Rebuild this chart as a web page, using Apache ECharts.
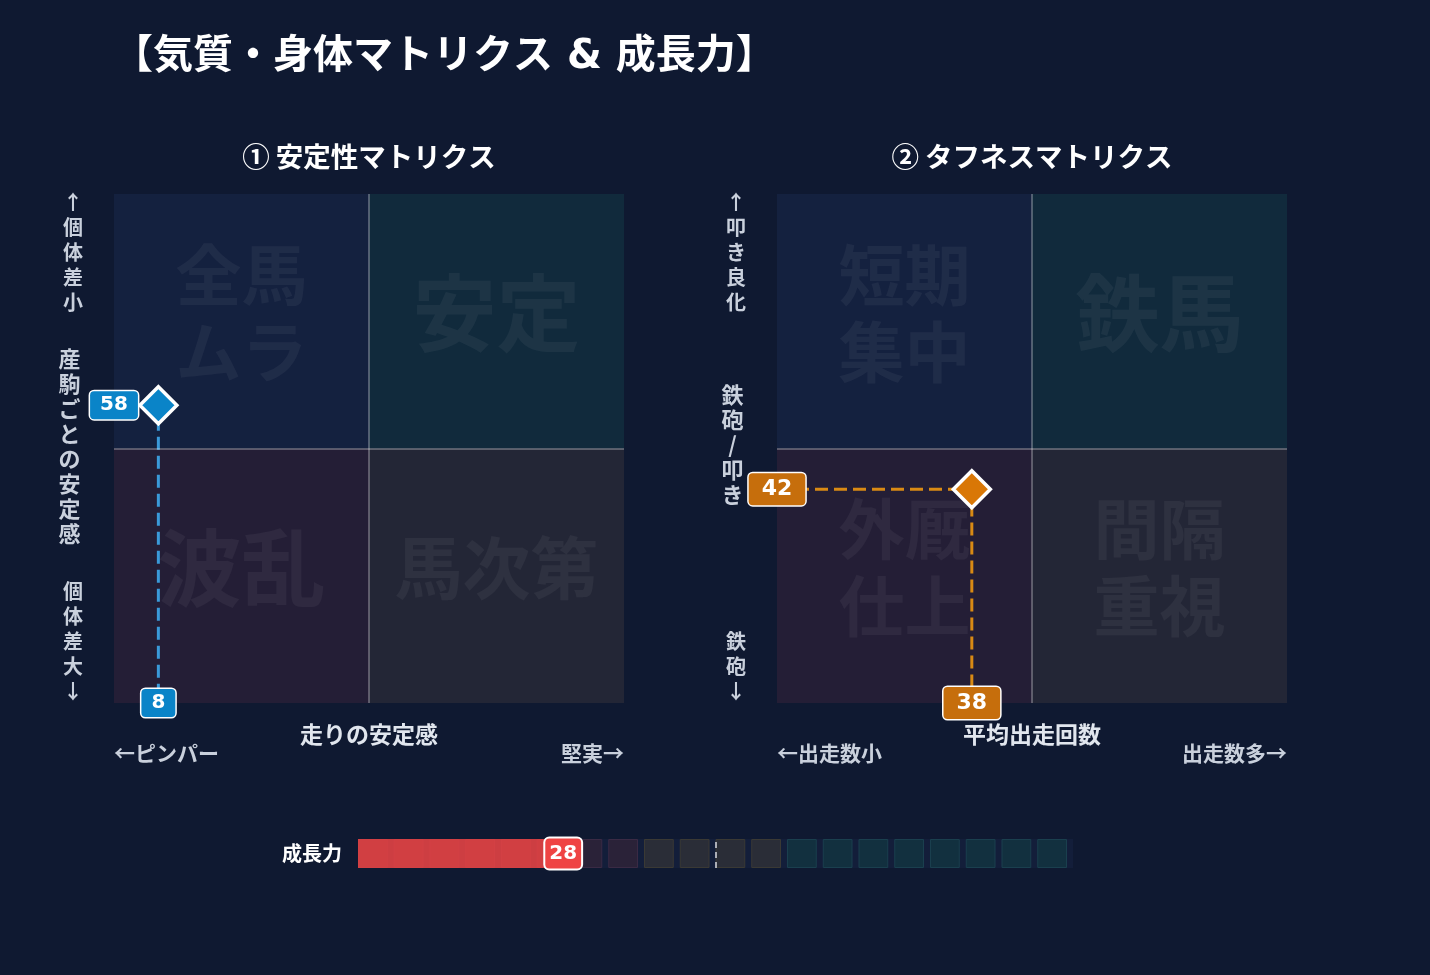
<!DOCTYPE html>
<html><head><meta charset="utf-8">
<script src="https://cdn.jsdelivr.net/npm/echarts@6/dist/echarts.min.js"></script>
<style>html,body{margin:0;padding:0;background:#0f1931;}#c{width:1430px;height:975px;}</style>
</head><body><div id="c"></div>
<script>
// ---------- data ----------
const mainTitle = '【気質・身体マトリクス & 成長力】';
const matrixTitles = ['① 安定性マトリクス', '② タフネスマトリクス'];
const stabilityQuadrants = ['全馬\nムラ', '安定', '波乱', '馬次第'];      // TL, TR, BL, BR
const toughnessQuadrants = ['短期\n集中', '鉄馬', '外厩\n仕上', '間隔\n重視'];
const stabilityAxisX = ['走りの安定感', '←ピンパー', '堅実→'];
const stabilityAxisY = ['↑\n個\n体\n差\n小', '産\n駒\nご\nと\nの\n安\n定\n感', '個\n体\n差\n大\n↓'];
const toughnessAxisX = ['平均出走回数', '←出走数小', '出走数多→'];
const toughnessAxisY = ['↑\n叩\nき\n良\n化', '鉄\n砲\n/\n叩\nき', '鉄\n砲\n↓'];
const stabilityPoint = [8.7, 58.5];   // [走りの安定感, 産駒ごとの安定感]
const toughnessPoint = [38.2, 42.0];  // [平均出走回数, 叩き良化]
const growthLabel = ['成長力'];
const growthValue = [28.7];
const growthZones = [[0, 40], [40, 60], [60, 100]];
const growthStep = 5;
const growthMid = 50;

// ---------- styles ----------
const quadColors = ['#14213f', '#112a3c', '#241e36', '#232636'];
const CJK = '"Noto Sans CJK JP", sans-serif';
const NUM = '"DejaVu Sans", sans-serif';
const MIX = '"DejaVu Sans", "Noto Sans CJK JP", sans-serif';

function wmSize(t) {
  if (t.indexOf('\n') >= 0) return 66;
  if (t.length >= 3) return 68;
  return 84;
}

function matrixSeries(gi, quads, pt, c) {
  const areas = [
    [[0, 50], [50, 100]],
    [[50, 50], [100, 100]],
    [[0, 0], [50, 50]],
    [[50, 0], [100, 50]]
  ].map((a, i) => [
    { coord: a[0], name: quads[i], itemStyle: { color: quadColors[i], opacity: 1 },
      label: { show: true, position: 'inside', offset: [0, -8], color: 'rgba(255,255,255,0.05)',
               fontSize: wmSize(quads[i]), lineHeight: wmSize(quads[i]) * 1.17, fontWeight: 'bold', fontFamily: CJK } },
    { coord: a[1] }
  ]);
  return [
    {
      type: 'scatter', xAxisIndex: gi, yAxisIndex: gi, data: [], z: 0, silent: true,
      markArea: { silent: true, data: areas },
      markLine: { silent: true, symbol: 'none', label: { show: false },
        lineStyle: { color: 'rgba(255,255,255,0.27)', width: 2, type: 'solid', opacity: 1 },
        data: [{ xAxis: 50 }, { yAxis: 50 }] }
    },
    {
      type: 'line', xAxisIndex: gi, yAxisIndex: gi, z: 2, silent: true, symbol: 'none',
      lineStyle: { color: c.dash, width: 3, type: [13, 6], opacity: 1 },
      data: [[0, pt[1]], [pt[0], pt[1]], [pt[0], 0]]
    },
    {
      type: 'scatter', xAxisIndex: gi, yAxisIndex: gi, z: 3, silent: true,
      symbol: 'diamond', symbolSize: 37,
      itemStyle: { color: c.fill, borderColor: '#ffffff', borderWidth: 3.5, opacity: 1 },
      data: [pt]
    },
    {
      type: 'scatter', xAxisIndex: gi, yAxisIndex: gi, z: 5, silent: true,
      symbolSize: 1, itemStyle: { color: 'rgba(0,0,0,0)', opacity: 1 },
      label: {
        show: true, position: 'inside', formatter: p => String(Math.floor(p.value[2])), opacity: 1,
        color: '#ffffff', fontFamily: NUM, fontWeight: 'bold', fontSize: c.fs, lineHeight: c.fs,
        backgroundColor: c.label, borderColor: '#ffffff', borderWidth: 1.5, borderRadius: 4, padding: c.pad
      },
      data: [[0, pt[1], pt[1]], [pt[0], 0, pt[0]]]
    }
  ];
}

const cells = [];
growthZones.forEach((z, zi) => {
  for (let v = z[0]; v < z[1]; v += growthStep) cells.push([v, v + growthStep, zi]);
});
const cellFill = ['#2a2238', '#2a2d37', '#12303f'];
const cellStroke = ['#3a2a44', '#3a3934', '#1a3f4e'];

function barRect(api, x0, x1) {
  const s = api.coord([x0, 0]);
  const e = api.coord([x1, 0]);
  const h = api.size([0, 1])[1];
  return { x: s[0], y: s[1] - h / 2, width: e[0] - s[0], height: h };
}

const hidden = { show: false };
function vAxis(gi) {
  return { gridIndex: gi, type: 'value', min: 0, max: 100, show: false };
}

const txtColor = '#c9d0dc';
function T(text, x, y, font, align, valign, fill, lh) {
  return { type: 'text', x: x, y: y, silent: true,
    style: { text: text, font: font, fill: fill || txtColor, textAlign: align, align: align,
      textVerticalAlign: valign, verticalAlign: valign, lineHeight: lh || undefined } };
}

const graphics = [
  T(mainTitle, 113, 58, 'bold 40px ' + MIX, 'left', 'middle', '#ffffff'),
  T(matrixTitles[0], 369, 157, 'bold 27.5px ' + CJK, 'center', 'middle', '#ffffff'),
  T(matrixTitles[1], 1032, 157, 'bold 27.5px ' + CJK, 'center', 'middle', '#ffffff'),
  // left matrix axes
  T(stabilityAxisY[0], 73, 189.5, 'bold 20px ' + CJK, 'center', 'top', txtColor, 25),
  T(stabilityAxisY[1], 69.5, 446, 'bold 22px ' + CJK, 'center', 'middle', txtColor, 25),
  T(stabilityAxisY[2], 73, 703.5, 'bold 20px ' + CJK, 'center', 'bottom', txtColor, 25),
  T(stabilityAxisX[0], 369, 734, 'bold 23px ' + CJK, 'center', 'middle', '#e1e6ee'),
  T(stabilityAxisX[1], 114, 753, 'bold 21px ' + CJK, 'left', 'middle'),
  T(stabilityAxisX[2], 624, 753, 'bold 21px ' + CJK, 'right', 'middle'),
  // right matrix axes
  T(toughnessAxisY[0], 736, 189.5, 'bold 20px ' + CJK, 'center', 'top', txtColor, 25),
  T(toughnessAxisY[1], 732.5, 445, 'bold 22px ' + CJK, 'center', 'middle', txtColor, 25),
  T(toughnessAxisY[2], 736, 703.5, 'bold 20px ' + CJK, 'center', 'bottom', txtColor, 25),
  T(toughnessAxisX[0], 1032, 734, 'bold 23px ' + CJK, 'center', 'middle', '#e1e6ee'),
  T(toughnessAxisX[1], 777, 753, 'bold 21px ' + CJK, 'left', 'middle'),
  T(toughnessAxisX[2], 1287, 753, 'bold 21px ' + CJK, 'right', 'middle')
];

const option = {
  backgroundColor: '#0f1931',
  animation: false,
  grid: [
    { left: 114, top: 194, width: 510, height: 509 },
    { left: 777, top: 194, width: 510, height: 509 },
    { left: 358, top: 839, width: 715, height: 29 }
  ],
  xAxis: [vAxis(0), vAxis(1), vAxis(2)],
  yAxis: [vAxis(0), vAxis(1), {
    gridIndex: 2, type: 'category', data: growthLabel,
    axisLine: hidden, axisTick: hidden, splitLine: hidden,
    axisLabel: { color: '#ffffff', fontSize: 20, fontWeight: 'bold', fontFamily: CJK, margin: 16 }
  }],
  graphic: graphics,
  series: [
    ...matrixSeries(0, stabilityQuadrants, stabilityPoint,
      { fill: '#0a84c8', label: '#0a84c8', dash: '#3a9ad9', fs: 20, pad: [4, 10] }),
    ...matrixSeries(1, toughnessQuadrants, toughnessPoint,
      { fill: '#d97706', label: '#c66e0c', dash: '#d98a14', fs: 22, pad: [5, 13] }),
    // growth track
    {
      type: 'custom', xAxisIndex: 2, yAxisIndex: 2, z: 1, silent: true,
      data: [[0, 100]],
      renderItem: (p, api) => ({ type: 'rect', shape: barRect(api, api.value(0), api.value(1)),
        style: { fill: '#131e3a' } })
    },
    // growth cells
    {
      type: 'custom', xAxisIndex: 2, yAxisIndex: 2, z: 2, silent: true,
      data: cells,
      renderItem: (p, api) => {
        const r = barRect(api, api.value(0), api.value(1));
        const zi = api.value(2);
        r.width -= 6;
        return { type: 'rect', shape: { x: r.x + 0.5, y: r.y + 0.5, width: r.width - 1, height: r.height - 1 },
          style: { fill: cellFill[zi], stroke: cellStroke[zi], lineWidth: 1 } };
      },
      markLine: { silent: true, symbol: 'none', label: { show: false },
        lineStyle: { color: 'rgba(215,218,225,0.75)', width: 2, type: [6, 4], opacity: 1 },
        data: [{ xAxis: growthMid }] }
    },
    // growth fill
    {
      type: 'custom', xAxisIndex: 2, yAxisIndex: 2, z: 3, silent: true,
      data: [[0, growthValue[0]]],
      renderItem: (p, api) => ({ type: 'rect', shape: barRect(api, api.value(0), api.value(1)),
        style: { fill: '#ef4444', opacity: 0.85 } })
    },
    // growth value label
    {
      type: 'scatter', xAxisIndex: 2, yAxisIndex: 2, z: 6, silent: true,
      symbolSize: 1, itemStyle: { color: 'rgba(0,0,0,0)', opacity: 1 },
      label: {
        show: true, position: 'inside', formatter: p => String(Math.floor(p.value[0])), opacity: 1,
        color: '#ffffff', fontFamily: NUM, fontWeight: 'bold', fontSize: 20, lineHeight: 20,
        backgroundColor: '#ef4444', borderColor: '#ffffff', borderWidth: 2, borderRadius: 4, padding: [5, 4]
      },
      data: [[growthValue[0], 0]]
    }
  ]
};

const chart = echarts.init(document.getElementById('c'), null, { renderer: 'canvas' });
chart.setOption(option);
</script>
</body></html>
